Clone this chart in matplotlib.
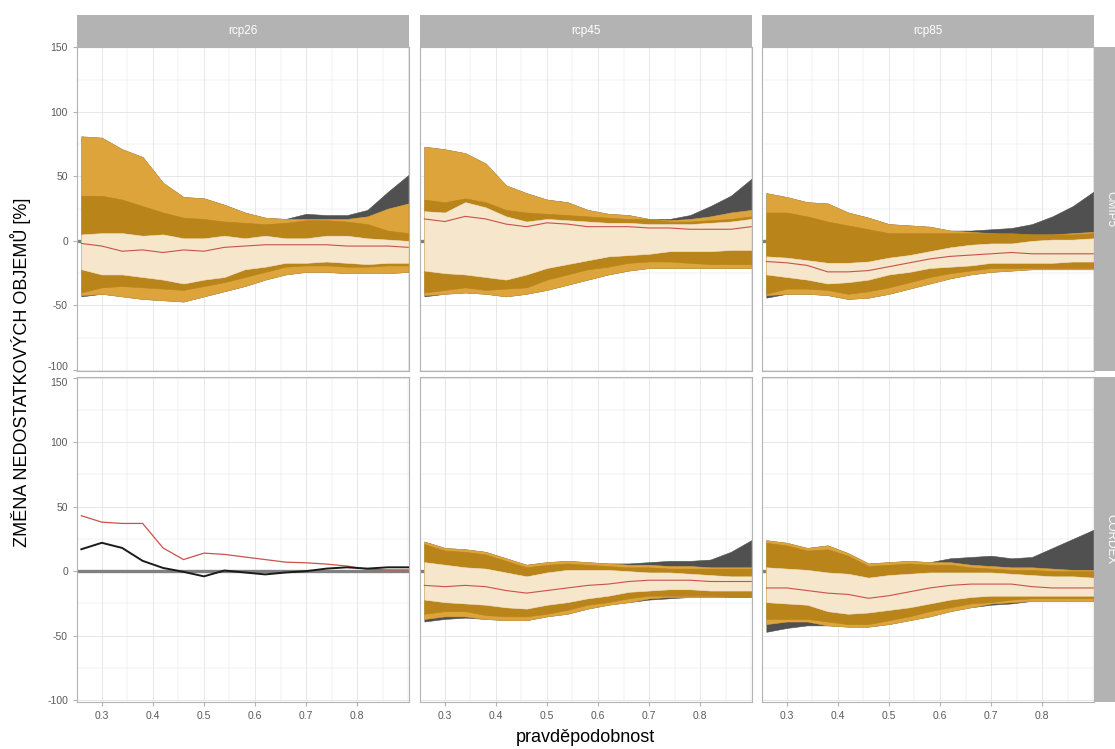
import numpy as np
import matplotlib
matplotlib.use("Agg")
import matplotlib.pyplot as plt
import matplotlib.transforms as mtrans
from matplotlib.ticker import MultipleLocator

plt.rcParams['font.family'] = ['Liberation Sans', 'DejaVu Sans']

# ---- data -------------------------------------------------------------
pst = [0.26, 0.30, 0.34, 0.38, 0.42, 0.46, 0.50, 0.54, 0.58,
       0.62, 0.66, 0.70, 0.74, 0.78, 0.82, 0.86, 0.90]

scenarios = ["rcp26", "rcp45", "rcp85"]
ensembles = ["CMIP5", "CORDEX"]

# CMIP5 rcp26
cm26_max = [81, 80, 71, 65, 45, 34, 33, 28, 22, 18, 17, 21, 20, 20, 24, 38, 51]
cm26_p95 = [81, 80, 71, 65, 45, 34, 33, 28, 22, 18, 17, 17, 17, 17, 19, 25, 29]
cm26_p90 = [35, 35, 32, 27, 22, 18, 17, 15, 14, 13, 14, 16, 16, 15, 13, 8, 6]
cm26_p75 = [5, 6, 6, 4, 5, 2, 2, 4, 2, 4, 2, 2, 4, 4, 2, 1, 0]
cm26_med = [-2, -4, -8, -7, -9, -7, -8, -5, -4, -3, -3, -3, -3, -4, -4, -4, -5]
cm26_p25 = [-22, -26, -26, -28, -30, -33, -30, -28, -22, -20, -17, -17, -16, -17, -18, -17, -17]
cm26_p10 = [-40, -36, -35, -36, -37, -38, -35, -32, -28, -24, -20, -19, -19, -20, -20, -19, -19]
cm26_p05 = [-42, -41, -43, -45, -46, -47, -43, -39, -35, -30, -26, -24, -24, -25, -25, -25, -24]
cm26_min = [-43, -41, -43, -45, -46, -47, -43, -39, -35, -30, -26, -24, -24, -25, -25, -25, -24]

# CMIP5 rcp45
cm45_max = [73, 71, 68, 60, 43, 37, 32, 30, 24, 21, 20, 17, 17, 20, 27, 35, 48]
cm45_p95 = [73, 71, 68, 60, 43, 37, 32, 30, 24, 21, 20, 17, 16, 17, 19, 22, 24]
cm45_p90 = [32, 30, 33, 30, 24, 22, 21, 20, 19, 18, 17, 17, 15, 15, 16, 17, 19]
cm45_p75 = [23, 22, 30, 26, 19, 15, 17, 16, 15, 14, 14, 13, 13, 13, 14, 15, 17]
cm45_med = [17, 15, 19, 17, 13, 11, 14, 13, 11, 11, 11, 10, 10, 9, 9, 9, 11]
cm45_p25 = [-23, -25, -26, -28, -30, -26, -21, -18, -15, -12, -11, -10, -8, -8, -8, -7, -7]
cm45_p10 = [-40, -38, -36, -38, -37, -36, -30, -26, -22, -20, -17, -16, -16, -17, -18, -18, -18]
cm45_p05 = [-42, -41, -40, -41, -43, -41, -38, -34, -30, -26, -23, -21, -21, -21, -21, -21, -21]
cm45_min = [-43, -41, -40, -41, -43, -41, -38, -34, -30, -26, -23, -21, -21, -21, -21, -21, -21]

# CMIP5 rcp85
cm85_max = [37, 34, 30, 29, 22, 18, 13, 12, 11, 8, 8, 9, 10, 13, 19, 27, 38]
cm85_p95 = [37, 34, 30, 29, 22, 18, 13, 12, 11, 8, 7, 6, 5, 5, 5, 6, 7]
cm85_p90 = [22, 22, 19, 15, 12, 9, 6, 6, 6, 6, 6, 6, 6, 5, 5, 5, 6]
cm85_p75 = [-12, -13, -15, -17, -17, -16, -13, -11, -8, -5, -3, -2, -2, 0, 1, 1, 2]
cm85_med = [-16, -17, -19, -24, -24, -23, -20, -17, -14, -12, -11, -10, -9, -10, -10, -10, -10]
cm85_p25 = [-26, -28, -30, -33, -32, -30, -26, -24, -21, -20, -19, -17, -17, -17, -17, -16, -16]
cm85_p10 = [-41, -37, -37, -38, -41, -39, -36, -32, -28, -25, -23, -21, -21, -21, -21, -21, -21]
cm85_p05 = [-42, -41, -41, -42, -45, -44, -41, -37, -33, -29, -26, -24, -23, -22, -22, -22, -22]
cm85_min = [-44, -41, -41, -42, -45, -44, -41, -37, -33, -29, -26, -24, -23, -22, -22, -22, -22]

# CORDEX rcp26 (only two runs)
cx26_red = [43, 38, 37, 37, 18, 9, 14, 13, 11, 9, 7, 6.5, 5.5, 4, 1.5, 1, 1]
cx26_black = [17, 22, 18, 8, 2.5, -0.5, -4, 0.5, -1, -2.5, -1, 0, 2, 3, 2, 3, 3]

# CORDEX rcp45
cx45_max = [23, 18, 17, 15, 10, 5, 7, 8, 7, 6, 6, 7, 8, 8, 9, 15, 24]
cx45_p95 = [23, 18, 17, 15, 10, 5, 7, 8, 7, 6, 5, 5, 4, 4, 3, 3, 3]
cx45_p90 = [21, 16, 15, 13, 8, 3, 5, 6, 5, 4, 3, 3, 2, 2, 2, 2, 2]
cx45_p75 = [7, 5, 3, 2, -1, -4, -1, 1, 1, 1, 0, -1, -1, -2, -3, -4, -4]
cx45_med = [-11, -12, -11, -12, -15, -17, -15, -13, -11, -10, -8, -7, -7, -7, -8, -8, -8]
cx45_p25 = [-22, -24, -25, -26, -28, -29, -26, -24, -21, -19, -16, -15, -14, -14, -15, -15, -15]
cx45_p10 = [-33, -31, -31, -34, -35, -35, -33, -30, -26, -24, -21, -19, -19, -19, -19, -20, -20]
cx45_p05 = [-37, -35, -35, -37, -38, -38, -35, -33, -29, -26, -24, -21, -20, -20, -20, -20, -20]
cx45_min = [-39, -37, -36, -37, -38, -38, -35, -33, -29, -26, -24, -22, -21, -20, -20, -20, -20]

# CORDEX rcp85
cx85_max = [24, 22, 18, 20, 14, 6, 7, 8, 7, 10, 11, 12, 10, 11, 18, 25, 32]
cx85_p95 = [24, 22, 18, 20, 14, 6, 7, 8, 7, 7, 5, 4, 3, 3, 2, 1, 1]
cx85_p90 = [22, 20, 16, 17, 12, 4, 5, 6, 5, 5, 3, 2, 1, 1, 0, 0, 0]
cx85_p75 = [3, 2, 1, -1, -2, -5, -3, -2, -1, -1, -1, -1, -2, -3, -4, -4, -5]
cx85_med = [-13, -13, -15, -17, -18, -21, -19, -16, -13, -11, -10, -10, -10, -12, -13, -13, -13]
cx85_p25 = [-24, -25, -26, -31, -33, -32, -30, -28, -25, -22, -20, -19, -19, -19, -19, -19, -19]
cx85_p10 = [-37, -37, -37, -39, -41, -41, -38, -35, -31, -28, -25, -24, -22, -21, -21, -21, -21]
cx85_p05 = [-41, -39, -39, -42, -43, -43, -41, -38, -35, -31, -28, -25, -24, -23, -23, -23, -23]
cx85_min = [-47, -44, -42, -42, -43, -43, -41, -38, -35, -31, -28, -26, -25, -23, -23, -23, -23]

panels = {
    ("CMIP5", "rcp26"): (cm26_min, cm26_p05, cm26_p10, cm26_p25, cm26_med, cm26_p75, cm26_p90, cm26_p95, cm26_max),
    ("CMIP5", "rcp45"): (cm45_min, cm45_p05, cm45_p10, cm45_p25, cm45_med, cm45_p75, cm45_p90, cm45_p95, cm45_max),
    ("CMIP5", "rcp85"): (cm85_min, cm85_p05, cm85_p10, cm85_p25, cm85_med, cm85_p75, cm85_p90, cm85_p95, cm85_max),
    ("CORDEX", "rcp45"): (cx45_min, cx45_p05, cx45_p10, cx45_p25, cx45_med, cx45_p75, cx45_p90, cx45_p95, cx45_max),
    ("CORDEX", "rcp85"): (cx85_min, cx85_p05, cx85_p10, cx85_p25, cx85_med, cx85_p75, cx85_p90, cx85_p95, cx85_max),
}

# ---- style -------------------------------------------------------------
col_gray = '#505050'
col_light = '#DEA43C'
col_dark = '#B9841A'
col_cream = '#F5E6CC'
col_red = '#C9524C'
strip_col = '#B3B3B3'
grid_col = '#E3E3E3'

W, H = 1115, 749
fig = plt.figure(figsize=(W / 100, H / 100), dpi=100)

col_left = [77, 420, 762]
pan_w = 332
row_top = [46.7, 377]
pan_h = 324.5


def rect(x0, y0, w, h):
    # pixel box (top-left origin) -> figure fraction
    return [x0 / W, 1 - (y0 + h) / H, w / W, h / H]


def band(ax, lo, hi, color, z):
    ax.fill_between(pst, lo, hi, facecolor=color, edgecolor=color,
                    lw=0.4, zorder=z)


for r, ens in enumerate(ensembles):
    for c, scen in enumerate(scenarios):
        ax = fig.add_axes(rect(col_left[c], row_top[r], pan_w, pan_h))
        ax.set_xlim(0.2515, 0.9015)
        ax.set_ylim(-101, 150.5)
        ax.xaxis.set_major_locator(MultipleLocator(0.1))
        ax.xaxis.set_minor_locator(MultipleLocator(0.05))
        ax.yaxis.set_major_locator(MultipleLocator(50))
        ax.yaxis.set_minor_locator(MultipleLocator(25))
        ax.grid(True, which='major', color=grid_col, lw=0.6, zorder=0)
        ax.grid(True, which='minor', color=grid_col, lw=0.35, zorder=0)
        ax.set_axisbelow(True)
        for s in ax.spines.values():
            s.set_color('#B3B3B3')
            s.set_linewidth(0.8)
        ax.tick_params(which='both', length=0, colors='#B3B3B3',
                       labelcolor='#5A5A5A', labelsize=7.5)
        ax.tick_params(which='major', length=3)
        ax.tick_params(which='minor', length=0)

        ax.axhline(0, color='#808080', lw=2.4, zorder=1)

        key = (ens, scen)
        if key in panels:
            mn, p05, p10, p25, med, p75, p90, p95, mx = panels[key]
            band(ax, mn, mx, col_gray, 2)
            band(ax, p05, p95, col_light, 3)
            band(ax, p10, p90, col_dark, 4)
            band(ax, p25, p75, col_cream, 5)
            ax.plot(pst, med, color=col_red, lw=0.8, zorder=6)
        else:
            ax.plot(pst, cx26_red, color=col_red, lw=0.9, zorder=6)
            ax.plot(pst, cx26_black, color='#1A1A1A', lw=1.4, zorder=6)

        if c == 0:
            ax.set_yticks([-100, -50, 0, 50, 100, 150])
            ax.set_yticklabels(['-100', '-50', '0', '50', '100', '150'])
            # keep the two labels at the row joint apart
            labs = ax.get_yticklabels()
            if r == 0:
                shift = mtrans.ScaledTranslation(0, 3 / 72, fig.dpi_scale_trans)
                labs[0].set_transform(labs[0].get_transform() + shift)
            else:
                shift = mtrans.ScaledTranslation(0, -3 / 72, fig.dpi_scale_trans)
                labs[-1].set_transform(labs[-1].get_transform() + shift)
        else:
            ax.tick_params(axis='y', labelleft=False, length=0)
        if r == 1:
            ax.set_xticks([0.3, 0.4, 0.5, 0.6, 0.7, 0.8])
            ax.set_xticklabels(['0.3', '0.4', '0.5', '0.6', '0.7', '0.8'])
        else:
            ax.tick_params(axis='x', labelbottom=False, length=0)

        # column strip on top
        if r == 0:
            sax = fig.add_axes(rect(col_left[c], 15, pan_w, 31.7))
            sax.set_facecolor(strip_col)
            sax.set_xticks([])
            sax.set_yticks([])
            for s in sax.spines.values():
                s.set_visible(False)
            sax.text(0.5, 0.5, scen, color='white', fontsize=8.5,
                     ha='center', va='center', transform=sax.transAxes)

    # row strip on the right (cut by figure edge)
    rax = fig.add_axes(rect(1095, row_top[r], 31, pan_h))
    rax.set_facecolor(strip_col)
    rax.set_xticks([])
    rax.set_yticks([])
    for s in rax.spines.values():
        s.set_visible(False)
    rax.text(0.5, 0.5, ens, color='white', fontsize=8.5, rotation=-90,
             ha='center', va='center', transform=rax.transAxes)

fig.text(21 / W, 1 - 372 / H, 'ZMĚNA NEDOSTATKOVÝCH OBJEMŮ [%]',
         rotation=90, ha='center', va='center', fontsize=13)
fig.text(585 / W, 1 - 737 / H, 'pravděpodobnost',
         ha='center', va='center', fontsize=13)

fig.savefig('out.png', dpi=100)
